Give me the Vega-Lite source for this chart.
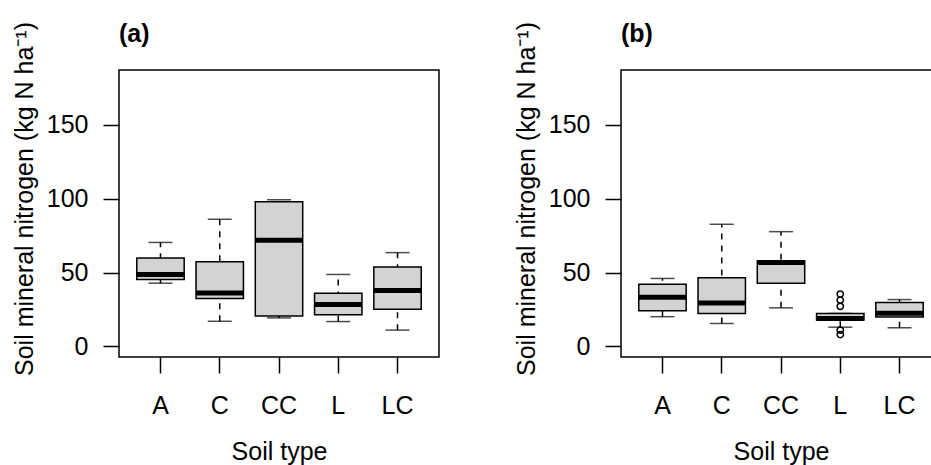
{
  "$schema": "https://vega.github.io/schema/vega-lite/v6.json",
  "autosize": {"type": "none"},
  "padding": {"left": 119, "top": 70, "right": 812, "bottom": 395},
  "background": "white",
  "bounds": "flush",
  "spacing": 182,
  "config": {
    "font": "Liberation Sans",
    "view": {"stroke": "black", "strokeWidth": 1.5},
    "axis": {"labelFont": "Liberation Sans", "titleFont": "Liberation Sans", "labelColor": "black", "titleColor": "black", "tickColor": "black", "grid": false, "domain": false},
    "axisY": {"tickSize": 16, "tickWidth": 1.5, "labelFontSize": 25, "labelPadding": 15, "titleFontSize": 25, "titleFontWeight": "normal", "titleBaseline": "alphabetic", "titleAngle": 270, "titleX": -87, "titleY": 128.5}
  },
  "datasets": {
    "stats": [
      {"panel": "a", "soil": "A", "lower": 42.8, "q1": 45.3, "median": 48.7, "q3": 59.9, "upper": 70.4},
      {"panel": "a", "soil": "C", "lower": 17.0, "q1": 32.5, "median": 36.1, "q3": 57.4, "upper": 86.1},
      {"panel": "a", "soil": "CC", "lower": 19.3, "q1": 20.6, "median": 71.8, "q3": 98.0, "upper": 99.3},
      {"panel": "a", "soil": "L", "lower": 16.8, "q1": 21.5, "median": 28.3, "q3": 35.9, "upper": 48.7},
      {"panel": "a", "soil": "LC", "lower": 11.0, "q1": 25.1, "median": 37.9, "q3": 53.8, "upper": 63.5},
      {"panel": "b", "soil": "A", "lower": 20.1, "q1": 24.1, "median": 33.2, "q3": 42.0, "upper": 46.0},
      {"panel": "b", "soil": "C", "lower": 15.5, "q1": 22.3, "median": 29.3, "q3": 46.4, "upper": 82.7},
      {"panel": "b", "soil": "CC", "lower": 26.1, "q1": 42.8, "median": 56.8, "q3": 57.9, "upper": 77.7},
      {"panel": "b", "soil": "L", "lower": 13.0, "q1": 17.8, "median": 18.9, "q3": 22.3, "upper": 22.3},
      {"panel": "b", "soil": "LC", "lower": 12.6, "q1": 19.9, "median": 22.5, "q3": 29.7, "upper": 31.7}
    ],
    "outliers": [
      {"panel": "b", "soil": "L", "v": 35.4},
      {"panel": "b", "soil": "L", "v": 31.3},
      {"panel": "b", "soil": "L", "v": 27.1},
      {"panel": "b", "soil": "L", "v": 11.0},
      {"panel": "b", "soil": "L", "v": 8.0}
    ]
  },
  "hconcat": [
    {
      "width": 320,
      "height": 287,
      "title": {"text": "(a)", "anchor": "start", "frame": "group", "fontSize": 25, "fontWeight": "bold", "baseline": "alphabetic", "offset": -45, "color": "black", "font": "Liberation Sans"},
      "encoding": {
        "x": {"field": "soil", "type": "nominal", "sort": ["A", "C", "CC", "L", "LC"],
          "scale": {"domain": ["A", "C", "CC", "L", "LC"], "paddingInner": 0, "paddingOuter": 0.2},
          "axis": {"title": "Soil type", "labelAngle": 0, "tickSize": 16, "tickWidth": 1.5, "labelFontSize": 25, "labelBaseline": "alphabetic", "labelPadding": 40, "titleFontSize": 25, "titleFontWeight": "normal", "titleBaseline": "alphabetic", "titleY": 102}}
      },
      "layer": [
        {
          "data": {"name": "stats"},
          "transform": [{"filter": "datum.panel === 'a'"}],
          "mark": {"type": "rule", "color": "black", "strokeWidth": 1.5, "strokeDash": [6, 6]},
          "encoding": {
            "y": {"field": "lower", "type": "quantitative", "scale": {"domain": [-7.2, 187.2], "nice": false, "zero": false},
              "axis": {"title": "Soil mineral nitrogen (kg N ha⁻¹)", "values": [0, 50, 100, 150]}},
            "y2": {"field": "upper"}
          }
        },
        {
          "data": {"name": "stats"},
          "transform": [{"filter": "datum.panel === 'a'"}],
          "mark": {"type": "tick", "color": "black", "thickness": 1.5, "size": 24},
          "encoding": {"y": {"field": "lower", "type": "quantitative", "axis": {"title": "Soil mineral nitrogen (kg N ha⁻¹)", "values": [0, 50, 100, 150]}}}
        },
        {
          "data": {"name": "stats"},
          "transform": [{"filter": "datum.panel === 'a'"}],
          "mark": {"type": "tick", "color": "black", "thickness": 1.5, "size": 24},
          "encoding": {"y": {"field": "upper", "type": "quantitative", "axis": {"title": "Soil mineral nitrogen (kg N ha⁻¹)", "values": [0, 50, 100, 150]}}}
        },
        {
          "data": {"name": "stats"},
          "transform": [{"filter": "datum.panel === 'a'"}],
          "mark": {"type": "bar", "fill": "#d3d3d3", "stroke": "black", "strokeWidth": 1.5, "width": {"band": 0.8}},
          "encoding": {"y": {"field": "q1", "type": "quantitative", "axis": {"title": "Soil mineral nitrogen (kg N ha⁻¹)", "values": [0, 50, 100, 150]}}, "y2": {"field": "q3"}}
        },
        {
          "data": {"name": "stats"},
          "transform": [{"filter": "datum.panel === 'a'"}],
          "mark": {"type": "tick", "color": "black", "thickness": 5, "size": 47.4, "opacity": 1},
          "encoding": {"y": {"field": "median", "type": "quantitative", "axis": {"title": "Soil mineral nitrogen (kg N ha⁻¹)", "values": [0, 50, 100, 150]}}}
        }
      ]
    },
    {
      "width": 320,
      "height": 287,
      "title": {"text": "(b)", "anchor": "start", "frame": "group", "fontSize": 25, "fontWeight": "bold", "baseline": "alphabetic", "offset": -45, "color": "black", "font": "Liberation Sans"},
      "encoding": {
        "x": {"field": "soil", "type": "nominal", "sort": ["A", "C", "CC", "L", "LC"],
          "scale": {"domain": ["A", "C", "CC", "L", "LC"], "paddingInner": 0, "paddingOuter": 0.2},
          "axis": {"title": "Soil type", "labelAngle": 0, "tickSize": 16, "tickWidth": 1.5, "labelFontSize": 25, "labelBaseline": "alphabetic", "labelPadding": 40, "titleFontSize": 25, "titleFontWeight": "normal", "titleBaseline": "alphabetic", "titleY": 102}}
      },
      "layer": [
        {
          "data": {"name": "stats"},
          "transform": [{"filter": "datum.panel === 'b'"}],
          "mark": {"type": "rule", "color": "black", "strokeWidth": 1.5, "strokeDash": [6, 6]},
          "encoding": {
            "y": {"field": "lower", "type": "quantitative", "scale": {"domain": [-7.2, 187.2], "nice": false, "zero": false},
              "axis": {"title": "Soil mineral nitrogen (kg N ha⁻¹)", "values": [0, 50, 100, 150]}},
            "y2": {"field": "upper"}
          }
        },
        {
          "data": {"name": "stats"},
          "transform": [{"filter": "datum.panel === 'b'"}],
          "mark": {"type": "tick", "color": "black", "thickness": 1.5, "size": 24},
          "encoding": {"y": {"field": "lower", "type": "quantitative", "axis": {"title": "Soil mineral nitrogen (kg N ha⁻¹)", "values": [0, 50, 100, 150]}}}
        },
        {
          "data": {"name": "stats"},
          "transform": [{"filter": "datum.panel === 'b'"}],
          "mark": {"type": "tick", "color": "black", "thickness": 1.5, "size": 24},
          "encoding": {"y": {"field": "upper", "type": "quantitative", "axis": {"title": "Soil mineral nitrogen (kg N ha⁻¹)", "values": [0, 50, 100, 150]}}}
        },
        {
          "data": {"name": "stats"},
          "transform": [{"filter": "datum.panel === 'b'"}],
          "mark": {"type": "bar", "fill": "#d3d3d3", "stroke": "black", "strokeWidth": 1.5, "width": {"band": 0.8}},
          "encoding": {"y": {"field": "q1", "type": "quantitative", "axis": {"title": "Soil mineral nitrogen (kg N ha⁻¹)", "values": [0, 50, 100, 150]}}, "y2": {"field": "q3"}}
        },
        {
          "data": {"name": "stats"},
          "transform": [{"filter": "datum.panel === 'b'"}],
          "mark": {"type": "tick", "color": "black", "thickness": 5, "size": 47.4, "opacity": 1},
          "encoding": {"y": {"field": "median", "type": "quantitative", "axis": {"title": "Soil mineral nitrogen (kg N ha⁻¹)", "values": [0, 50, 100, 150]}}}
        },
        {
          "data": {"name": "outliers"},
          "mark": {"type": "point", "shape": "circle", "filled": false, "stroke": "black", "strokeWidth": 1.5, "size": 40, "opacity": 1},
          "encoding": {"y": {"field": "v", "type": "quantitative", "axis": {"title": "Soil mineral nitrogen (kg N ha⁻¹)", "values": [0, 50, 100, 150]}}}
        }
      ]
    }
  ]
}
